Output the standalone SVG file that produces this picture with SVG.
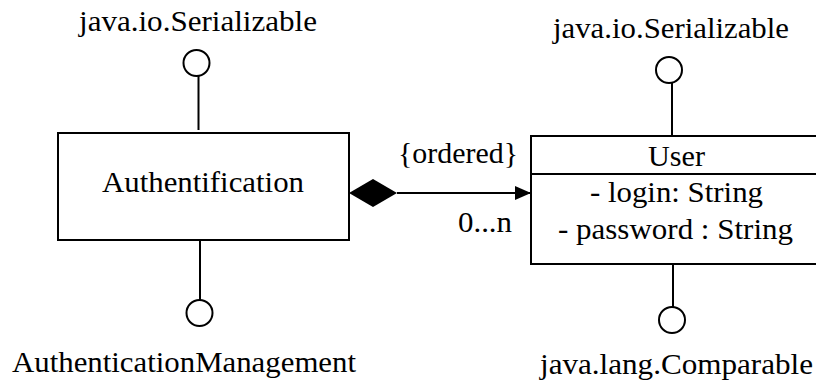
<svg xmlns="http://www.w3.org/2000/svg" width="816" height="390" viewBox="0 0 816 390">
<style>
text{font-family:'Liberation Serif','Times New Roman',serif;font-size:29px;fill:#000}
.box{fill:#fff;stroke:#000;stroke-width:2}
.ln{stroke:#000;stroke-width:2;fill:none}
.lol{fill:#fff;stroke:#000;stroke-width:2}
</style>
<defs>
<marker id="arr" viewBox="0 0 16 14" refX="16" refY="7" markerWidth="16" markerHeight="14" markerUnits="userSpaceOnUse" orient="auto">
<path d="M0,0 L16,7 L0,14 Z" fill="#000"/>
</marker>
</defs>
<rect width="816" height="390" fill="#fff"/>
<g id="connectors">
<line class="ln" x1="198.5" y1="76" x2="198.5" y2="130"/>
<line class="ln" x1="200" y1="240" x2="200" y2="300"/>
<line class="ln" x1="672" y1="82" x2="672" y2="136"/>
<line class="ln" x1="673" y1="264" x2="673" y2="307"/>
<g id="composition">
<path d="M349,193 L373,179 L397,193 L373,207 Z" fill="#000"/>
<line class="ln" x1="397" y1="193" x2="531" y2="193" marker-end="url(#arr)"/>
<text x="398" y="163" textLength="120" lengthAdjust="spacingAndGlyphs">{ordered}</text>
<text x="458" y="232" textLength="54" lengthAdjust="spacingAndGlyphs">0...n</text>
</g>
</g>
<g id="authentification">
<rect class="box" x="58" y="133" width="291" height="107"/>
<text x="102" y="192" textLength="202" lengthAdjust="spacingAndGlyphs">Authentification</text>
</g>
<g id="auth-serializable">
<circle class="lol" cx="196.5" cy="63" r="13"/>
<text x="79" y="31" textLength="238" lengthAdjust="spacingAndGlyphs">java.io.Serializable</text>
</g>
<g id="auth-management">
<circle class="lol" cx="199.5" cy="313" r="13"/>
<text x="12" y="372" textLength="344" lengthAdjust="spacingAndGlyphs">AuthenticationManagement</text>
</g>
<g id="user">
<rect class="box" x="531" y="136" width="292" height="128"/>
<line class="ln" x1="531" y1="174" x2="823" y2="174"/>
<text x="648" y="166" textLength="57" lengthAdjust="spacingAndGlyphs">User</text>
<text x="590" y="202" textLength="173" lengthAdjust="spacingAndGlyphs">- login: String</text>
<text x="558" y="239" textLength="235" lengthAdjust="spacingAndGlyphs">- password : String</text>
</g>
<g id="user-serializable">
<circle class="lol" cx="669" cy="70" r="13"/>
<text x="553" y="38" textLength="236" lengthAdjust="spacingAndGlyphs">java.io.Serializable</text>
</g>
<g id="user-comparable">
<circle class="lol" cx="672" cy="320" r="13"/>
<text x="540" y="374" textLength="273" lengthAdjust="spacingAndGlyphs">java.lang.Comparable</text>
</g>
</svg>
